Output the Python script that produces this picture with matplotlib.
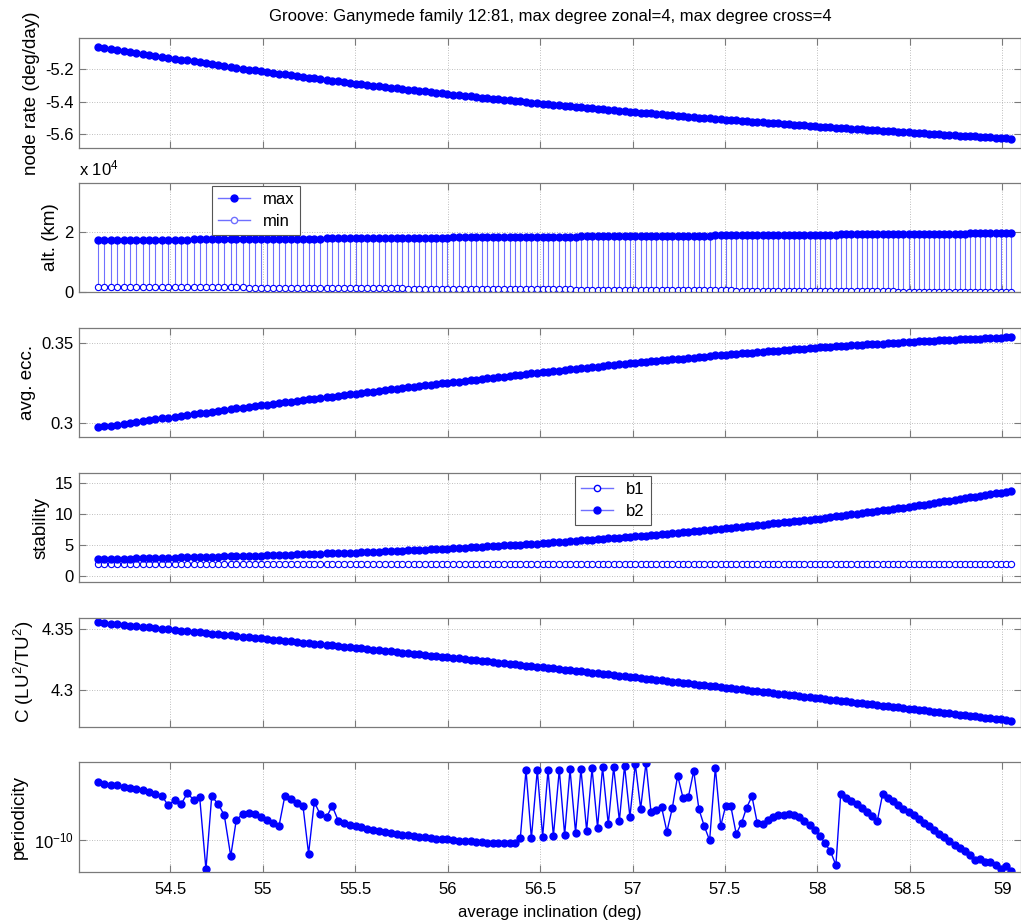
import numpy as np
import matplotlib
matplotlib.use("Agg")
import matplotlib.pyplot as plt
from matplotlib.lines import Line2D
from matplotlib.ticker import NullLocator

plt.rcParams['font.family'] = ['Liberation Sans', 'DejaVu Sans']
plt.rcParams['axes.unicode_minus'] = False
plt.rcParams['mathtext.fontset'] = 'custom'
plt.rcParams['mathtext.rm'] = 'Liberation Sans'
plt.rcParams['mathtext.it'] = 'Liberation Sans:italic'

title = "Groove: Ganymede family 12:81, max degree zonal=4, max degree cross=4"

# average inclination (deg) of each family member
incl = [
    54.107, 54.143, 54.178, 54.212, 54.248, 54.282, 54.316, 54.351, 54.385, 54.419,
    54.455, 54.489, 54.524, 54.558, 54.592, 54.626, 54.659, 54.693, 54.724, 54.758,
    54.792, 54.827, 54.857, 54.891, 54.927, 54.958, 54.989, 55.023, 55.057, 55.088,
    55.120, 55.155, 55.185, 55.218, 55.248, 55.279, 55.311, 55.346, 55.376, 55.409,
    55.439, 55.470, 55.503, 55.533, 55.566, 55.598, 55.631, 55.661, 55.692, 55.724,
    55.755, 55.786, 55.816, 55.847, 55.878, 55.908, 55.939, 55.969, 55.998, 56.031,
    56.061, 56.092, 56.125, 56.153, 56.184, 56.213, 56.243, 56.274, 56.305, 56.335,
    56.364, 56.393, 56.424, 56.453, 56.485, 56.514, 56.543, 56.572, 56.604, 56.633,
    56.662, 56.692, 56.721, 56.752, 56.781, 56.811, 56.838, 56.869, 56.898, 56.929,
    56.957, 56.986, 57.015, 57.044, 57.073, 57.100, 57.129, 57.157, 57.186, 57.215,
    57.244, 57.273, 57.302, 57.331, 57.359, 57.388, 57.417, 57.448, 57.477, 57.504,
    57.532, 57.561, 57.590, 57.617, 57.646, 57.675, 57.704, 57.731, 57.760, 57.788,
    57.817, 57.846, 57.873, 57.902, 57.929, 57.958, 57.985, 58.014, 58.041, 58.070,
    58.100, 58.126, 58.154, 58.183, 58.212, 58.239, 58.268, 58.297, 58.324, 58.353,
    58.380, 58.407, 58.437, 58.464, 58.493, 58.520, 58.549, 58.576, 58.603, 58.630,
    58.657, 58.686, 58.713, 58.742, 58.771, 58.798, 58.825, 58.852, 58.879, 58.908,
    58.935, 58.964, 58.991, 59.018, 59.047,
]

node_rate = [
    -5.061, -5.067, -5.073, -5.079, -5.085, -5.091, -5.097, -5.103, -5.109, -5.115,
    -5.121, -5.127, -5.133, -5.139, -5.144, -5.150, -5.156, -5.161, -5.167, -5.172,
    -5.178, -5.184, -5.189, -5.195, -5.201, -5.206, -5.211, -5.217, -5.222, -5.226,
    -5.231, -5.236, -5.241, -5.246, -5.250, -5.255, -5.260, -5.265, -5.269, -5.274,
    -5.279, -5.284, -5.288, -5.292, -5.297, -5.301, -5.305, -5.309, -5.313, -5.317,
    -5.321, -5.325, -5.329, -5.333, -5.337, -5.341, -5.345, -5.349, -5.353, -5.357,
    -5.360, -5.364, -5.368, -5.371, -5.375, -5.378, -5.382, -5.385, -5.389, -5.392,
    -5.396, -5.399, -5.403, -5.406, -5.410, -5.413, -5.417, -5.420, -5.423, -5.426,
    -5.429, -5.432, -5.435, -5.439, -5.442, -5.445, -5.448, -5.451, -5.454, -5.457,
    -5.460, -5.464, -5.466, -5.469, -5.472, -5.474, -5.477, -5.480, -5.483, -5.485,
    -5.488, -5.491, -5.493, -5.496, -5.499, -5.502, -5.504, -5.507, -5.510, -5.512,
    -5.515, -5.517, -5.520, -5.522, -5.524, -5.527, -5.529, -5.531, -5.534, -5.536,
    -5.539, -5.541, -5.543, -5.546, -5.548, -5.550, -5.553, -5.555, -5.557, -5.559,
    -5.562, -5.564, -5.566, -5.568, -5.570, -5.572, -5.574, -5.577, -5.579, -5.581,
    -5.583, -5.585, -5.587, -5.589, -5.592, -5.593, -5.595, -5.597, -5.599, -5.601,
    -5.603, -5.605, -5.607, -5.609, -5.611, -5.613, -5.615, -5.617, -5.619, -5.621,
    -5.622, -5.624, -5.626, -5.628, -5.630,
]

# altitude (km)
alt_max = [
    17330, 17350, 17360, 17380, 17400, 17410, 17430, 17450, 17460, 17480,
    17500, 17510, 17530, 17540, 17560, 17580, 17590, 17610, 17620, 17640,
    17650, 17670, 17690, 17700, 17720, 17730, 17750, 17760, 17780, 17790,
    17810, 17830, 17840, 17860, 17870, 17890, 17900, 17920, 17930, 17950,
    17960, 17980, 17990, 18010, 18020, 18040, 18050, 18070, 18080, 18100,
    18110, 18130, 18140, 18150, 18170, 18180, 18200, 18210, 18230, 18240,
    18260, 18270, 18290, 18300, 18310, 18330, 18340, 18360, 18370, 18390,
    18400, 18410, 18430, 18440, 18460, 18470, 18480, 18500, 18510, 18530,
    18540, 18560, 18570, 18580, 18600, 18610, 18620, 18640, 18650, 18670,
    18680, 18700, 18710, 18720, 18740, 18750, 18760, 18780, 18790, 18800,
    18820, 18830, 18840, 18860, 18870, 18890, 18900, 18910, 18930, 18940,
    18950, 18970, 18980, 18990, 19010, 19020, 19030, 19050, 19060, 19080,
    19090, 19100, 19120, 19130, 19140, 19160, 19170, 19180, 19190, 19210,
    19220, 19240, 19250, 19260, 19280, 19290, 19300, 19320, 19330, 19340,
    19360, 19370, 19380, 19400, 19410, 19420, 19440, 19450, 19460, 19470,
    19490, 19500, 19510, 19530, 19540, 19550, 19570, 19580, 19590, 19610,
    19620, 19630, 19650, 19660, 19670,
]

alt_min = [
    1870, 1860, 1840, 1830, 1820, 1800, 1790, 1780, 1760, 1750,
    1740, 1720, 1710, 1700, 1690, 1670, 1660, 1650, 1640, 1620,
    1610, 1600, 1590, 1570, 1560, 1550, 1530, 1520, 1510, 1500,
    1490, 1470, 1460, 1450, 1440, 1420, 1410, 1400, 1390, 1380,
    1360, 1350, 1340, 1330, 1320, 1300, 1290, 1280, 1270, 1260,
    1240, 1230, 1220, 1210, 1200, 1190, 1170, 1160, 1150, 1140,
    1130, 1120, 1100, 1090, 1080, 1070, 1060, 1050, 1030, 1020,
    1010, 1000, 990, 980, 970, 960, 940, 930, 920, 910,
    900, 890, 880, 860, 850, 840, 830, 820, 810, 800,
    790, 780, 760, 750, 740, 730, 720, 710, 700, 690,
    680, 670, 660, 640, 630, 620, 610, 600, 590, 580,
    570, 560, 550, 540, 530, 510, 500, 490, 480, 470,
    460, 450, 440, 430, 420, 410, 400, 390, 380, 360,
    350, 340, 330, 320, 310, 300, 290, 280, 270, 260,
    250, 240, 220, 210, 200, 190, 180, 170, 160, 150,
    140, 130, 120, 110, 100, 90, 80, 70, 60, 50,
    40, 30, 20, 10, 0,
]

avg_ecc = [
    0.2975, 0.2981, 0.2986, 0.2992, 0.2998, 0.3003, 0.3008, 0.3014, 0.3020, 0.3025,
    0.3031, 0.3036, 0.3042, 0.3047, 0.3052, 0.3057, 0.3062, 0.3067, 0.3072, 0.3077,
    0.3082, 0.3087, 0.3092, 0.3097, 0.3102, 0.3107, 0.3111, 0.3116, 0.3121, 0.3126,
    0.3130, 0.3135, 0.3139, 0.3144, 0.3148, 0.3153, 0.3157, 0.3162, 0.3166, 0.3171,
    0.3175, 0.3180, 0.3184, 0.3188, 0.3193, 0.3197, 0.3202, 0.3206, 0.3210, 0.3214,
    0.3218, 0.3223, 0.3227, 0.3231, 0.3235, 0.3239, 0.3243, 0.3247, 0.3251, 0.3255,
    0.3259, 0.3263, 0.3267, 0.3271, 0.3275, 0.3278, 0.3282, 0.3286, 0.3290, 0.3294,
    0.3298, 0.3301, 0.3305, 0.3309, 0.3313, 0.3317, 0.3320, 0.3324, 0.3327, 0.3331,
    0.3334, 0.3338, 0.3341, 0.3345, 0.3348, 0.3352, 0.3355, 0.3359, 0.3362, 0.3366,
    0.3369, 0.3372, 0.3376, 0.3379, 0.3382, 0.3384, 0.3387, 0.3390, 0.3393, 0.3396,
    0.3399, 0.3402, 0.3405, 0.3408, 0.3411, 0.3414, 0.3417, 0.3421, 0.3424, 0.3426,
    0.3429, 0.3431, 0.3434, 0.3436, 0.3439, 0.3441, 0.3444, 0.3446, 0.3449, 0.3451,
    0.3454, 0.3456, 0.3459, 0.3461, 0.3464, 0.3466, 0.3469, 0.3471, 0.3473, 0.3475,
    0.3477, 0.3479, 0.3481, 0.3483, 0.3485, 0.3487, 0.3489, 0.3491, 0.3493, 0.3495,
    0.3497, 0.3498, 0.3501, 0.3502, 0.3504, 0.3506, 0.3508, 0.3509, 0.3511, 0.3512,
    0.3514, 0.3515, 0.3517, 0.3518, 0.3520, 0.3521, 0.3523, 0.3524, 0.3526, 0.3527,
    0.3529, 0.3530, 0.3532, 0.3533, 0.3535,
]

b1 = [
    2.0, 2.0, 2.0, 2.0, 2.0, 2.0, 2.0, 2.0, 2.0, 2.0,
    2.0, 2.0, 2.0, 2.0, 2.0, 2.0, 2.0, 2.0, 2.0, 2.0,
    2.0, 2.0, 2.0, 2.0, 2.0, 2.0, 2.0, 2.0, 2.0, 2.0,
    2.0, 2.0, 2.0, 2.0, 2.0, 2.0, 2.0, 2.0, 2.0, 2.0,
    2.0, 2.0, 2.0, 2.0, 2.0, 2.0, 2.0, 2.0, 2.0, 2.0,
    2.0, 2.0, 2.0, 2.0, 2.0, 2.0, 2.0, 2.0, 2.0, 2.0,
    2.0, 2.0, 2.0, 2.0, 2.0, 2.0, 2.0, 2.0, 2.0, 2.0,
    2.0, 2.0, 2.0, 2.0, 2.0, 2.0, 2.0, 2.0, 2.0, 2.0,
    2.0, 2.0, 2.0, 2.0, 2.0, 2.0, 2.0, 2.0, 2.0, 2.0,
    2.0, 2.0, 2.0, 2.0, 2.0, 2.0, 2.0, 2.0, 2.0, 2.0,
    2.0, 2.0, 2.0, 2.0, 2.0, 2.0, 2.0, 2.0, 2.0, 2.0,
    2.0, 2.0, 2.0, 2.0, 2.0, 2.0, 2.0, 2.0, 2.0, 2.0,
    2.0, 2.0, 2.0, 2.0, 2.0, 2.0, 2.0, 2.0, 2.0, 2.0,
    2.0, 2.0, 2.0, 2.0, 2.0, 2.0, 2.0, 2.0, 2.0, 2.0,
    2.0, 2.0, 2.0, 2.0, 2.0, 2.0, 2.0, 2.0, 2.0, 2.0,
    2.0, 2.0, 2.0, 2.0, 2.0, 2.0, 2.0, 2.0, 2.0, 2.0,
    2.0, 2.0, 2.0, 2.0, 2.0,
]

b2 = [
    2.72, 2.74, 2.77, 2.79, 2.81, 2.83, 2.85, 2.88, 2.90, 2.92,
    2.94, 2.96, 2.99, 3.01, 3.04, 3.06, 3.08, 3.11, 3.13, 3.16,
    3.18, 3.21, 3.23, 3.25, 3.28, 3.30, 3.32, 3.35, 3.38, 3.41,
    3.44, 3.48, 3.50, 3.54, 3.56, 3.59, 3.62, 3.66, 3.68, 3.71,
    3.74, 3.77, 3.80, 3.84, 3.88, 3.92, 3.96, 4.00, 4.04, 4.08,
    4.12, 4.15, 4.19, 4.23, 4.27, 4.31, 4.34, 4.38, 4.42, 4.47,
    4.52, 4.57, 4.63, 4.67, 4.73, 4.77, 4.82, 4.88, 4.93, 4.98,
    5.02, 5.07, 5.12, 5.17, 5.23, 5.28, 5.34, 5.41, 5.47, 5.54,
    5.60, 5.67, 5.73, 5.79, 5.86, 5.92, 5.98, 6.05, 6.11, 6.18,
    6.24, 6.30, 6.37, 6.45, 6.52, 6.59, 6.67, 6.74, 6.82, 6.90,
    6.97, 7.05, 7.13, 7.20, 7.28, 7.35, 7.43, 7.51, 7.59, 7.66,
    7.75, 7.84, 7.93, 8.01, 8.10, 8.19, 8.28, 8.37, 8.46, 8.54,
    8.63, 8.72, 8.81, 8.90, 8.98, 9.07, 9.15, 9.25, 9.36, 9.47,
    9.58, 9.68, 9.79, 9.90, 10.01, 10.12, 10.23, 10.34, 10.44, 10.56,
    10.66, 10.76, 10.88, 10.98, 11.09, 11.21, 11.35, 11.47, 11.60, 11.73,
    11.85, 11.99, 12.11, 12.25, 12.38, 12.51, 12.63, 12.76, 12.89, 13.02,
    13.15, 13.28, 13.41, 13.53, 13.67,
]

# Jacobi constant C (LU^2/TU^2)
jacobi_c = [
    4.3557, 4.3552, 4.3547, 4.3542, 4.3537, 4.3532, 4.3527, 4.3522, 4.3517, 4.3512,
    4.3507, 4.3502, 4.3496, 4.3491, 4.3486, 4.3481, 4.3476, 4.3471, 4.3466, 4.3461,
    4.3456, 4.3451, 4.3446, 4.3441, 4.3436, 4.3431, 4.3427, 4.3422, 4.3416, 4.3412,
    4.3407, 4.3401, 4.3397, 4.3392, 4.3387, 4.3383, 4.3378, 4.3372, 4.3368, 4.3363,
    4.3358, 4.3354, 4.3349, 4.3344, 4.3339, 4.3334, 4.3329, 4.3324, 4.3319, 4.3314,
    4.3309, 4.3304, 4.3300, 4.3295, 4.3290, 4.3285, 4.3281, 4.3276, 4.3271, 4.3266,
    4.3261, 4.3256, 4.3251, 4.3247, 4.3242, 4.3237, 4.3232, 4.3227, 4.3222, 4.3217,
    4.3213, 4.3208, 4.3203, 4.3199, 4.3193, 4.3189, 4.3184, 4.3179, 4.3174, 4.3169,
    4.3164, 4.3159, 4.3154, 4.3149, 4.3144, 4.3139, 4.3135, 4.3130, 4.3125, 4.3120,
    4.3115, 4.3110, 4.3105, 4.3100, 4.3095, 4.3091, 4.3086, 4.3081, 4.3076, 4.3071,
    4.3066, 4.3061, 4.3056, 4.3051, 4.3046, 4.3041, 4.3036, 4.3031, 4.3026, 4.3021,
    4.3016, 4.3011, 4.3006, 4.3002, 4.2997, 4.2992, 4.2986, 4.2982, 4.2977, 4.2972,
    4.2967, 4.2962, 4.2957, 4.2952, 4.2947, 4.2942, 4.2938, 4.2933, 4.2928, 4.2923,
    4.2917, 4.2913, 4.2908, 4.2903, 4.2898, 4.2893, 4.2888, 4.2883, 4.2878, 4.2873,
    4.2868, 4.2863, 4.2858, 4.2853, 4.2848, 4.2843, 4.2838, 4.2834, 4.2829, 4.2824,
    4.2819, 4.2814, 4.2809, 4.2804, 4.2799, 4.2794, 4.2789, 4.2784, 4.2780, 4.2774,
    4.2770, 4.2764, 4.2760, 4.2755, 4.2750,
]

# periodicity, as log10 of the value
period_log10 = [
    -9.536, -9.554, -9.560, -9.562, -9.573, -9.581, -9.589, -9.602, -9.615, -9.629,
    -9.647, -9.722, -9.679, -9.714, -9.626, -9.676, -9.655, -10.231, -9.650, -9.708,
    -9.799, -10.125, -9.838, -9.791, -9.780, -9.793, -9.812, -9.838, -9.865, -9.886,
    -9.645, -9.671, -9.703, -9.730, -10.106, -9.695, -9.793, -9.812, -9.727, -9.846,
    -9.860, -9.876, -9.886, -9.897, -9.907, -9.915, -9.926, -9.934, -9.942, -9.950,
    -9.958, -9.960, -9.966, -9.971, -9.974, -9.979, -9.987, -9.990, -9.992, -9.998,
    -10.003, -10.006, -10.008, -10.011, -10.016, -10.019, -10.019, -10.021, -10.021, -10.021,
    -10.021, -9.984, -9.440, -9.984, -9.440, -9.971, -9.440, -9.966, -9.440, -9.958,
    -9.435, -9.939, -9.432, -9.923, -9.427, -9.899, -9.419, -9.873, -9.416, -9.844,
    -9.406, -9.814, -9.393, -9.748, -9.382, -9.777, -9.756, -9.735, -9.931, -9.745,
    -9.485, -9.661, -9.655, -9.448, -9.751, -9.886, -10.000, -9.422, -9.886, -9.724,
    -9.730, -9.950, -9.860, -9.740, -9.650, -9.865, -9.873, -9.841, -9.814, -9.799,
    -9.796, -9.793, -9.799, -9.817, -9.844, -9.881, -9.921, -9.963, -10.024, -10.085,
    -10.197, -9.631, -9.661, -9.684, -9.711, -9.740, -9.775, -9.809, -9.844, -9.631,
    -9.663, -9.687, -9.719, -9.748, -9.777, -9.801, -9.828, -9.860, -9.889, -9.918,
    -9.947, -9.976, -10.008, -10.037, -10.061, -10.088, -10.114, -10.160, -10.149, -10.175,
    -10.173, -10.199, -10.231, -10.202, -10.244,
]

xticks = [54.5, 55, 55.5, 56, 56.5, 57, 57.5, 58, 58.5, 59]
xtick_labels = ['54.5', '55', '55.5', '56', '56.5', '57', '57.5', '58', '58.5', '59']

W, H = 1021, 924
fig = plt.figure(figsize=(W / 100, H / 100), dpi=100)

tops = [38.3, 182.7, 327.7, 472.7, 617.5, 762.3]
ax_h = 109.5
axes = []
for t in tops:
    ax = fig.add_axes([79.3 / W, 1 - (t + ax_h) / H, 941.5 / W, ax_h / H])
    axes.append(ax)

grey = '#7a7a7a'
lab_fs = 13.5
for ax in axes:
    ax.set_xlim(54.008, 59.10)
    ax.set_xticks(xticks)
    ax.set_xticklabels(xtick_labels)
    ax.grid(True, color='#a8a8a8', linestyle=(0, (1, 2)), linewidth=0.6)
    ax.set_axisbelow(True)
    ax.tick_params(direction='in', top=True, right=True, length=5, width=0.8,
                   color=grey, labelsize=12, labelbottom=False, pad=4)
    ax.tick_params(axis='x', pad=7)
    for s in ax.spines.values():
        s.set_color(grey)
        s.set_linewidth(0.9)

x = np.array(incl)
filled = dict(color='blue', marker='o', ms=5, mfc='blue', mec='blue', lw=1)
hollow = dict(color='blue', marker='o', ms=4.5, mfc='white', mec='blue', mew=0.8, lw=1)
leg_style = dict(loc='upper left', fontsize=12, fancybox=False, framealpha=1,
                 edgecolor='#555555', handlelength=1.9, borderpad=0.35,
                 labelspacing=0.45, handletextpad=0.8, borderaxespad=0)

# node rate
ax = axes[0]
ax.plot(x, node_rate, **filled)
ax.set_ylim(-5.6875, -5.006)
ax.set_yticks([-5.6, -5.4, -5.2])
ax.set_ylabel('node rate (deg/day)', fontsize=lab_fs)

# altitude
ax = axes[1]
amax = np.array(alt_max) / 1e4
amin = np.array(alt_min) / 1e4
ax.vlines(x, amin, amax, colors='#7070ff', linewidth=0.8)
ax.plot(x, amax, ls='none', marker='o', ms=5, mfc='blue', mec='blue')
ax.plot(x, amin, ls='none', marker='o', ms=4.5, mfc='white', mec='blue', mew=0.8)
ax.set_ylim(0, 3.65)
ax.set_yticks([0, 2])
ax.set_yticklabels(['0', '2'])
ax.set_ylabel('alt. (km)', fontsize=lab_fs)
fig.text(79.3 / W, 1 - 168 / H, 'x 10$^4$', fontsize=12, ha='left', va='center')
h_max = Line2D([], [], color='#6f6fff', lw=1, marker='o', ms=5, mfc='blue', mec='blue')
h_min = Line2D([], [], color='#6f6fff', lw=1, marker='o', ms=4.5, mfc='white', mec='#6f6fff')
leg = ax.legend([h_max, h_min], ['max', 'min'], bbox_to_anchor=(0.141, 0.97), **leg_style)
leg.get_frame().set_linewidth(0.8)

# average eccentricity
ax = axes[2]
ax.plot(x, avg_ecc, **filled)
ax.set_ylim(0.2914, 0.3593)
ax.set_yticks([0.3, 0.35])
ax.set_yticklabels(['0.3', '0.35'])
ax.set_ylabel('avg. ecc.', fontsize=lab_fs)

# stability
ax = axes[3]
ax.plot(x, b1, **hollow)
ax.plot(x, b2, **filled)
ax.set_ylim(-0.96, 16.6)
ax.set_yticks([0, 5, 10, 15])
ax.set_ylabel('stability', fontsize=lab_fs)
h_b1 = Line2D([], [], color='#6f6fff', lw=1, marker='o', ms=4.5, mfc='white', mec='blue')
h_b2 = Line2D([], [], color='#6f6fff', lw=1, marker='o', ms=5, mfc='blue', mec='blue')
leg = ax.legend([h_b1, h_b2], ['b1', 'b2'], bbox_to_anchor=(0.527, 0.97), **leg_style)
leg.get_frame().set_linewidth(0.8)

# Jacobi constant
ax = axes[4]
ax.plot(x, jacobi_c, **filled)
ax.set_ylim(4.2697, 4.3598)
ax.set_yticks([4.3, 4.35])
ax.set_yticklabels(['4.3', '4.35'])
ax.set_ylabel('C (LU$^2$/TU$^2$)', fontsize=lab_fs)

# periodicity
ax = axes[5]
ax.plot(x, 10 ** np.array(period_log10), **filled)
ax.set_yscale('log')
ax.set_ylim(10 ** -10.25, 10 ** -9.379)
ax.set_yticks([1e-10])
ax.set_yticklabels(['10$^{-10}$'])
ax.yaxis.set_minor_locator(NullLocator())
ax.set_ylabel('periodicity', fontsize=lab_fs)
ax.tick_params(labelbottom=True)
ax.set_xlabel('average inclination (deg)', fontsize=12, labelpad=6)

fig.text(550 / W, 1 - 17 / H, title, fontsize=12, ha='center', va='center')

fig.savefig('out.png', dpi=100)
